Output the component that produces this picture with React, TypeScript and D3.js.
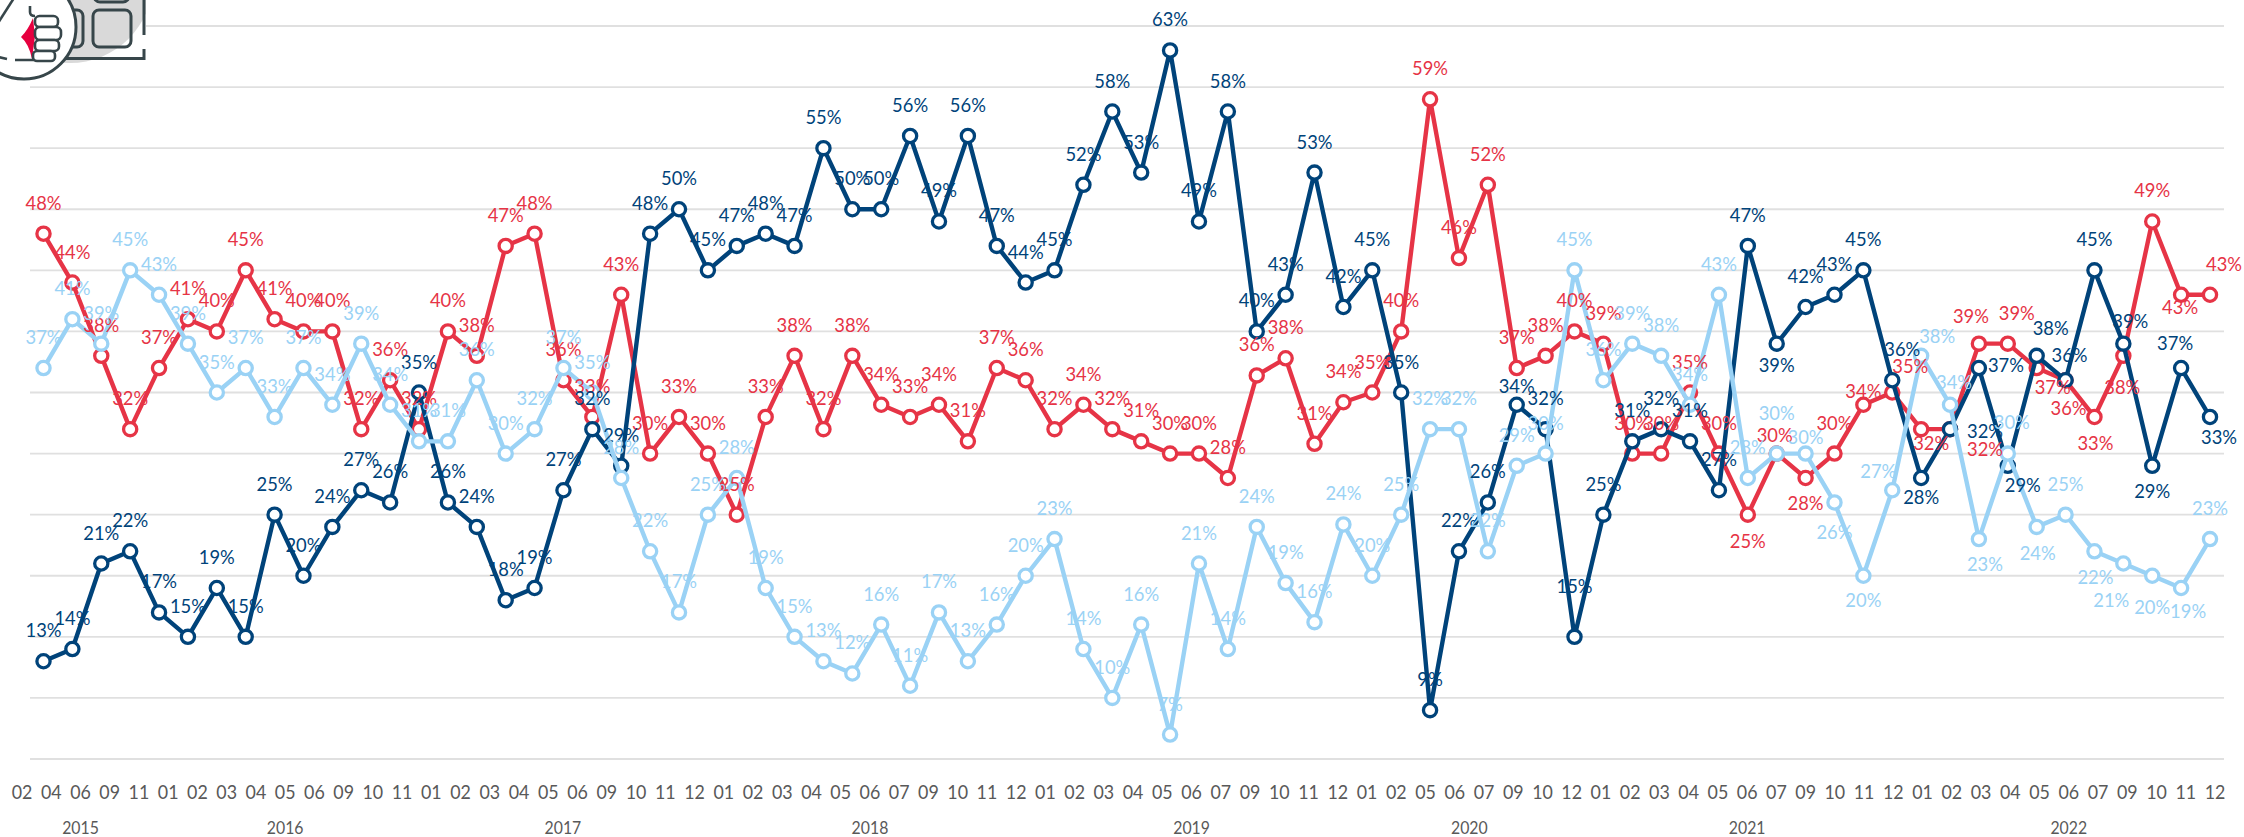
import React from "react";
import * as d3 from "d3";

const years = ["2015", "2016", "2017", "2018", "2019", "2020", "2021", "2022"];
const months2015 = ["02", "04", "06", "09", "11"];
const months2016 = ["01", "02", "03", "04", "05", "06", "09", "10", "11"];
const months2017 = ["01", "02", "03", "04", "05", "06", "09", "10", "11", "12"];
const months2018 = ["01", "02", "03", "04", "05", "06", "07", "09", "10", "11", "12"];
const months2019 = ["01", "02", "03", "04", "05", "06", "07", "09", "10", "11", "12"];
const months2020 = ["01", "02", "05", "06", "07", "09", "10", "12"];
const months2021 = ["01", "02", "03", "04", "05", "06", "07", "09", "10", "11", "12"];
const months2022 = ["01", "02", "03", "04", "05", "06", "07", "09", "10", "11", "12"];
const monthsByYear = [months2015, months2016, months2017, months2018, months2019, months2020, months2021, months2022];

const navyValues = [13, 14, 21, 22, 17, 15, 19, 15, 25, 20, 24, 27, 26, 35, 26, 24, 18, 19, 27, 32, 29, 48, 50, 45, 47, 48, 47, 55, 50, 50, 56, 49, 56, 47, 44, 45, 52, 58, 53, 63, 49, 58, 40, 43, 53, 42, 45, 35, 9, 22, 26, 34, 32, 15, 25, 31, 32, 31, 27, 47, 39, 42, 43, 45, 36, 28, 32, 37, 29, 38, 36, 45, 39, 29, 37, 33];
const redValues = [48, 44, 38, 32, 37, 41, 40, 45, 41, 40, 40, 32, 36, 32, 40, 38, 47, 48, 36, 33, 43, 30, 33, 30, 25, 33, 38, 32, 38, 34, 33, 34, 31, 37, 36, 32, 34, 32, 31, 30, 30, 28, 36.4, 37.8, 30.8, 34.2, 35, 40, 59, 46, 52, 37, 38, 40, 39, 30, 30, 35, 30, 25, 30, 28, 30, 34, 35, 32, 32, 39, 39, 37, 36, 33, 38, 49, 43, 43];
const lightValues = [37, 41, 39, 45, 43, 39, 35, 37, 33, 37, 34, 39, 34, 31, 31, 36, 30, 32, 37, 35, 28, 22, 17, 25, 28, 19, 15, 13, 12, 16, 11, 17, 13, 16, 20, 23, 14, 10, 16, 7, 21, 14, 24, 19.4, 16.2, 24.2, 20, 25, 32, 32, 22, 29, 30, 45, 36, 39, 38, 34, 43, 28, 30, 30, 26, 20, 27, 38, 34, 23, 30, 24, 25, 22, 21, 20, 19, 23];

const yTicks = d3.range(5, 70, 5);

// label displacement from the marker, for labels not in the default place above it
const defaultLabelOffset: [number, number] = [0, -31];
const navyLabelOffsets: Record<number, [number, number]> = {
  51: [0, -19], 53: [0, -51], 60: [0, 21], 64: [10, -31], 65: [0, 19], 66: [35, 2], 67: [27, -3],
  68: [15, 19], 69: [14, -28], 70: [4, -25], 72: [7, -23], 73: [0, 25], 74: [-6, -25], 75: [9, 20],
};
const redLabelOffsets: Record<number, [number, number]> = {
  59: [0, 26], 60: [-2, -19], 61: [0, 25], 63: [0, -14], 64: [18, -27], 65: [10, 14], 66: [35, 20],
  67: [-8, -28], 68: [9, -31], 69: [16, 19], 70: [3, 28], 71: [1, 26], 72: [-1, 31], 74: [-1, 12], 75: [14, -31],
};
const lightLabelOffsets: Record<number, [number, number]> = {
  60: [0, -41], 61: [0, -17], 62: [0, 30], 63: [0, 24], 64: [-14, -19], 65: [16, -20], 66: [4, -23],
  67: [6, 25], 68: [4, -32], 69: [1, 26], 71: [1, 26], 72: [-12, 36], 73: [0, 31], 74: [7, 23],
};

const NAVY = "#00437A";
const RED = "#E63446";
const LIGHT = "#9AD2F5";
const FONT = "Lato, 'Open Sans', sans-serif";

const seriesList = [
  { name: "red", values: redValues, color: RED, offsets: redLabelOffsets },
  { name: "navy", values: navyValues, color: NAVY, offsets: navyLabelOffsets },
  { name: "light", values: lightValues, color: LIGHT, offsets: lightLabelOffsets },
];

const monthLabels = monthsByYear.flat();
const indices = monthLabels.map((_, i) => String(i));
const x = d3.scalePoint<string>().domain(indices).range([43.5, 2210]);
const tickX = d3.scalePoint<string>().domain(indices).range([22, 2215]);
const y = d3.scaleLinear().domain([5, 65]).range([759, 26]);
const lineGen = d3.line<number>().x((_, i) => x(String(i)) as number).y((d) => y(d));

let runningIndex = 0;
const yearCenters = monthsByYear.map((m) => {
  const first = runningIndex;
  runningIndex += m.length;
  return (tickX(String(first)) as number + (tickX(String(runningIndex - 1)) as number)) / 2;
});

function Icon() {
  const dark = "#37464A";
  return (
    <g fill="none" stroke={dark} strokeWidth={3}>
      <rect x={0} y={0} width={146} height={64} fill="#fff" stroke="none" />
      <clipPath id="iconClip"><rect x={0} y={0} width={146} height={80} /></clipPath>
      <circle cx={70} cy={-20} r={83} fill="#D9D9D9" stroke="none" clipPath="url(#iconClip)" />
      <rect x={93} y={10} width={38} height={37} rx={6} />
      <rect x={56} y={10} width={27} height={37} rx={6} />
      <rect x={94} y={-30} width={35} height={32} rx={6} />
      <path d="M144 0V35M144 49V58.5H64" />
      <circle cx={24} cy={27} r={52} fill="#fff" />
      <path d="M-2 23L14 -2" strokeWidth={2.6} />
      <path d="M-2 57L7 59M15 60H34" strokeWidth={2.6} />
      <path d="M30 6V12Q30 16 35 16" strokeWidth={2.6} />
      <path d="M21 37Q28 30 33 18L35 36L32 59Q29 44 21 37Z" fill="#E6003F" stroke="none" />
      <rect x={35} y={16} width={23} height={11} rx={4.5} fill="#fff" strokeWidth={2.6} />
      <rect x={35} y={27} width={26} height={13} rx={5} fill="#fff" strokeWidth={2.6} />
      <rect x={35} y={40} width={24} height={11} rx={4.5} fill="#fff" strokeWidth={2.6} />
      <rect x={33} y={51} width={22} height={10} rx={4} fill="#fff" strokeWidth={2.6} />
    </g>
  );
}

export default function App() {
  return (
    <svg
      width={2244}
      height={837}
      viewBox="0 0 2244 837"
      style={{ position: "absolute", left: 0, top: 0, background: "#fff" }}
      fontFamily={FONT}
    >
      {yTicks.map((t) => (
        <line key={t} x1={30} x2={2224} y1={y(t)} y2={y(t)} stroke="#E0E0E0" strokeWidth={1.8} />
      ))}

      {seriesList.map((s) => (
        <g key={s.name}>
          <path d={lineGen(s.values) as string} fill="none" stroke={s.color} strokeWidth={4.4} strokeLinejoin="round" />
          {s.values.map((v, i) => (
            <circle key={i} cx={x(String(i))} cy={y(v)} r={6.6} fill="#fff" stroke={s.color} strokeWidth={3.3} />
          ))}
        </g>
      ))}

      {seriesList.map((s) => (
        <g key={s.name} fill={s.color} fontSize={19.5} textAnchor="middle">
          {s.values.map((v, i) => {
            const [dx, dy] = s.offsets[i] ?? defaultLabelOffset;
            const label = `${Math.round(v)}%`;
            return (
              <text
                key={i}
                x={(x(String(i)) as number) + dx}
                y={y(v) + dy + 7}
                textLength={label.length === 2 ? 25.7 : 36}
                lengthAdjust="spacingAndGlyphs"
              >
                {label}
              </text>
            );
          })}
        </g>
      ))}

      <g fill="#595959" textAnchor="middle">
        {monthLabels.map((m, i) => (
          <text key={i} x={tickX(String(i))} y={799} fontSize={19} textLength={20.7} lengthAdjust="spacingAndGlyphs">{m}</text>
        ))}
        {years.map((yr, i) => (
          <text key={yr} x={yearCenters[i]} y={834} fontSize={17.5} textLength={36.7} lengthAdjust="spacingAndGlyphs">{yr}</text>
        ))}
      </g>

      <Icon />
    </svg>
  );
}
